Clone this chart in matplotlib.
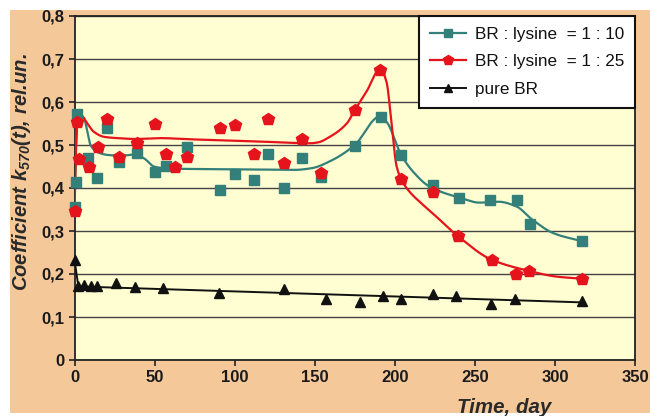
import numpy as np
import matplotlib
matplotlib.use("Agg")
import matplotlib.pyplot as plt
from matplotlib.patches import Rectangle
from matplotlib.lines import Line2D

plt.rcParams['font.family'] = ['Liberation Sans', 'DejaVu Sans']
plt.rcParams['mathtext.fontset'] = 'custom'
plt.rcParams['mathtext.rm'] = 'Liberation Sans:italic:bold'
plt.rcParams['mathtext.it'] = 'Liberation Sans:italic:bold'

# ---- data ----
teal_x = [0.3, 0.7, 1.4, 8.6, 14.2, 20.5, 28, 39, 50, 57, 70, 91, 100, 112, 121, 131, 142, 154, 175,
          191.6, 204, 224, 240, 259.6, 276.5, 284.3, 317]
teal_y = [0.355, 0.415, 0.571, 0.47, 0.424, 0.54, 0.46, 0.481, 0.437, 0.452, 0.496, 0.395, 0.432, 0.419,
          0.479, 0.399, 0.47, 0.425, 0.498, 0.566, 0.476, 0.406, 0.376, 0.372, 0.372, 0.316, 0.276]

red_x = [0.3, 1.7, 2.8, 9, 14.5, 20.5, 28, 39, 50, 57, 63, 70, 90.6, 100, 112, 121, 131, 142, 154, 175,
         191, 203.7, 224, 239.4, 260.6, 276, 284, 317]
red_y = [0.347, 0.554, 0.467, 0.45, 0.495, 0.56, 0.471, 0.505, 0.548, 0.479, 0.448, 0.473, 0.539, 0.547,
         0.479, 0.561, 0.457, 0.515, 0.436, 0.581, 0.675, 0.421, 0.39, 0.288, 0.233, 0.201, 0.207, 0.189]

black_x = [0.3, 2.4, 6, 10, 14, 26, 37.5, 55, 90, 131, 157, 178, 192.6, 203.7, 224, 238.4, 260, 275, 317]
black_y = [0.233, 0.171, 0.174, 0.171, 0.172, 0.18, 0.169, 0.167, 0.155, 0.164, 0.142, 0.134, 0.15,
           0.142, 0.153, 0.15, 0.13, 0.142, 0.137]

# trend-curve knots
teal_trend_x = [0, 1, 2.2, 6, 8, 10, 14, 20.5, 29, 38, 43.4, 49.6, 55, 60, 80, 110, 137, 148, 161, 175,
                190.6, 194.8, 204, 211.4, 221.8, 240, 253, 265, 276, 286, 299, 317]
teal_trend_y = [0.355, 0.5, 0.571, 0.562, 0.531, 0.5, 0.484, 0.477, 0.475, 0.478, 0.469, 0.45, 0.446,
                0.445, 0.444, 0.443, 0.442, 0.446, 0.465, 0.5, 0.566, 0.554, 0.477, 0.438, 0.403, 0.378,
                0.366, 0.368, 0.357, 0.326, 0.295, 0.276]
red_trend_x = [0, 1, 2.2, 3.5, 8, 12, 18.4, 26.7, 38, 53, 74, 116, 147, 152, 159.4, 170, 175, 182.3, 191,
               194.8, 197.9, 201, 203.7, 209.3, 215.5, 224, 239.4, 260.6, 284, 300.8, 317]
red_trend_y = [0.347, 0.5, 0.565, 0.571, 0.55, 0.531, 0.519, 0.516, 0.514, 0.516, 0.513, 0.508, 0.504,
               0.506, 0.519, 0.55, 0.581, 0.624, 0.677, 0.647, 0.554, 0.453, 0.4225, 0.391, 0.368, 0.34,
               0.288, 0.233, 0.207, 0.194, 0.189]
black_trend_x = [0, 2.4, 317]
black_trend_y = [0.233, 0.171, 0.134]

labels = ['BR : lysine  = 1 : 10', 'BR : lysine  = 1 : 25', 'pure BR']
x_ticks = [0, 50, 100, 150, 200, 250, 300, 350]
y_ticks = [0, 0.1, 0.2, 0.3, 0.4, 0.5, 0.6, 0.7, 0.8]
y_ticklabels = ['0', '0,1', '0,2', '0,3', '0,4', '0,5', '0,6', '0,7', '0,8']


def pchip(x, y, xs):
    x = np.asarray(x, float); y = np.asarray(y, float)
    h = np.diff(x); d = np.diff(y) / h
    m = np.zeros_like(y)
    for k in range(1, len(x) - 1):
        if d[k - 1] * d[k] > 0:
            w1 = 2 * h[k] + h[k - 1]; w2 = h[k] + 2 * h[k - 1]
            m[k] = (w1 + w2) / (w1 / d[k - 1] + w2 / d[k])
    m[0] = d[0]; m[-1] = d[-1]
    idx = np.clip(np.searchsorted(x, xs) - 1, 0, len(h) - 1)
    t = (xs - x[idx]) / h[idx]
    h00 = 2 * t**3 - 3 * t**2 + 1; h10 = t**3 - 2 * t**2 + t
    h01 = -2 * t**3 + 3 * t**2; h11 = t**3 - t**2
    return h00 * y[idx] + h10 * h[idx] * m[idx] + h01 * y[idx + 1] + h11 * h[idx] * m[idx + 1]


TEAL = '#33807A'
RED = '#E5141C'
BLACK = '#111111'
ORANGE = '#F5C899'
PLOTBG = '#FFFDD2'

fig = plt.figure(figsize=(6.5, 4.16), dpi=100, facecolor='white')
fig.patches.append(Rectangle((10 / 650, 3 / 416), 1, (406 - 3) / 416, transform=fig.transFigure,
                             facecolor=ORANGE, edgecolor='none', zorder=-10))

ax = fig.add_axes([74.5 / 650, 56 / 416, (635 - 74.5) / 650, (360 - 16) / 416])
ax.set_facecolor(PLOTBG)
ax.set_xlim(0, 350)
ax.set_ylim(0, 0.8)
ax.set_xticks(x_ticks)
ax.set_yticks(y_ticks)
ax.set_yticklabels(y_ticklabels)
ax.yaxis.grid(True, color='#444444', linewidth=1.0)
ax.set_axisbelow(True)
for s in ax.spines.values():
    s.set_color('#222222')
    s.set_linewidth(1.3)
ax.tick_params(axis='both', direction='out', length=4, width=1.2, color='#222222',
               labelsize=12, labelcolor='#1a1a1a', pad=3)
for lab in ax.get_xticklabels() + ax.get_yticklabels():
    lab.set_fontweight('bold')

xs = np.linspace(0, 317, 3000)
ax.plot(xs, pchip(teal_trend_x, teal_trend_y, xs), color=TEAL, lw=1.6, zorder=3)
ax.plot(xs, pchip(red_trend_x, red_trend_y, xs), color=RED, lw=1.6, zorder=3)
ax.plot(black_trend_x, black_trend_y, color=BLACK, lw=1.4, zorder=3)

ax.plot(teal_x, teal_y, ls='none', marker='s', ms=7.8, color=TEAL, mec=TEAL, zorder=4, clip_on=False)
ax.plot(red_x, red_y, ls='none', marker='p', ms=8.7, color=RED, mec=RED, zorder=5, clip_on=False)
ax.plot(black_x, black_y, ls='none', marker='^', ms=6.5, color=BLACK, mec=BLACK, zorder=4, clip_on=False)

handles = [Line2D([], [], color=TEAL, lw=1.6, marker='s', ms=6, mec=TEAL),
           Line2D([], [], color=RED, lw=1.6, marker='p', ms=7, mec=RED),
           Line2D([], [], color=BLACK, lw=1.4, marker='^', ms=5.5, mec=BLACK)]
leg = ax.legend(handles, labels, loc='upper right', bbox_to_anchor=(1, 1), borderaxespad=0,
                fontsize=12.3, frameon=True, fancybox=False, framealpha=1, edgecolor='#111111',
                handlelength=2.1, handletextpad=0.55, labelspacing=0.75, borderpad=0.62)
leg.get_frame().set_linewidth(1.5)
for t in leg.get_texts():
    t.set_color('#111111')

fig.text(22 / 650, 1 - 172 / 416, r'Coefficient k$_{\rm 570}$(t), rel.un.', rotation=90,
         ha='center', va='center', fontsize=14.6, fontweight='bold', fontstyle='italic', color='#2a2a2a')
fig.text(504 / 650, (416 - 413) / 416, 'Time, day', ha='center', va='baseline', fontsize=14.8,
         fontweight='bold', fontstyle='italic', color='#2a2a2a')

fig.savefig('out.png', dpi=100, facecolor=fig.get_facecolor())
